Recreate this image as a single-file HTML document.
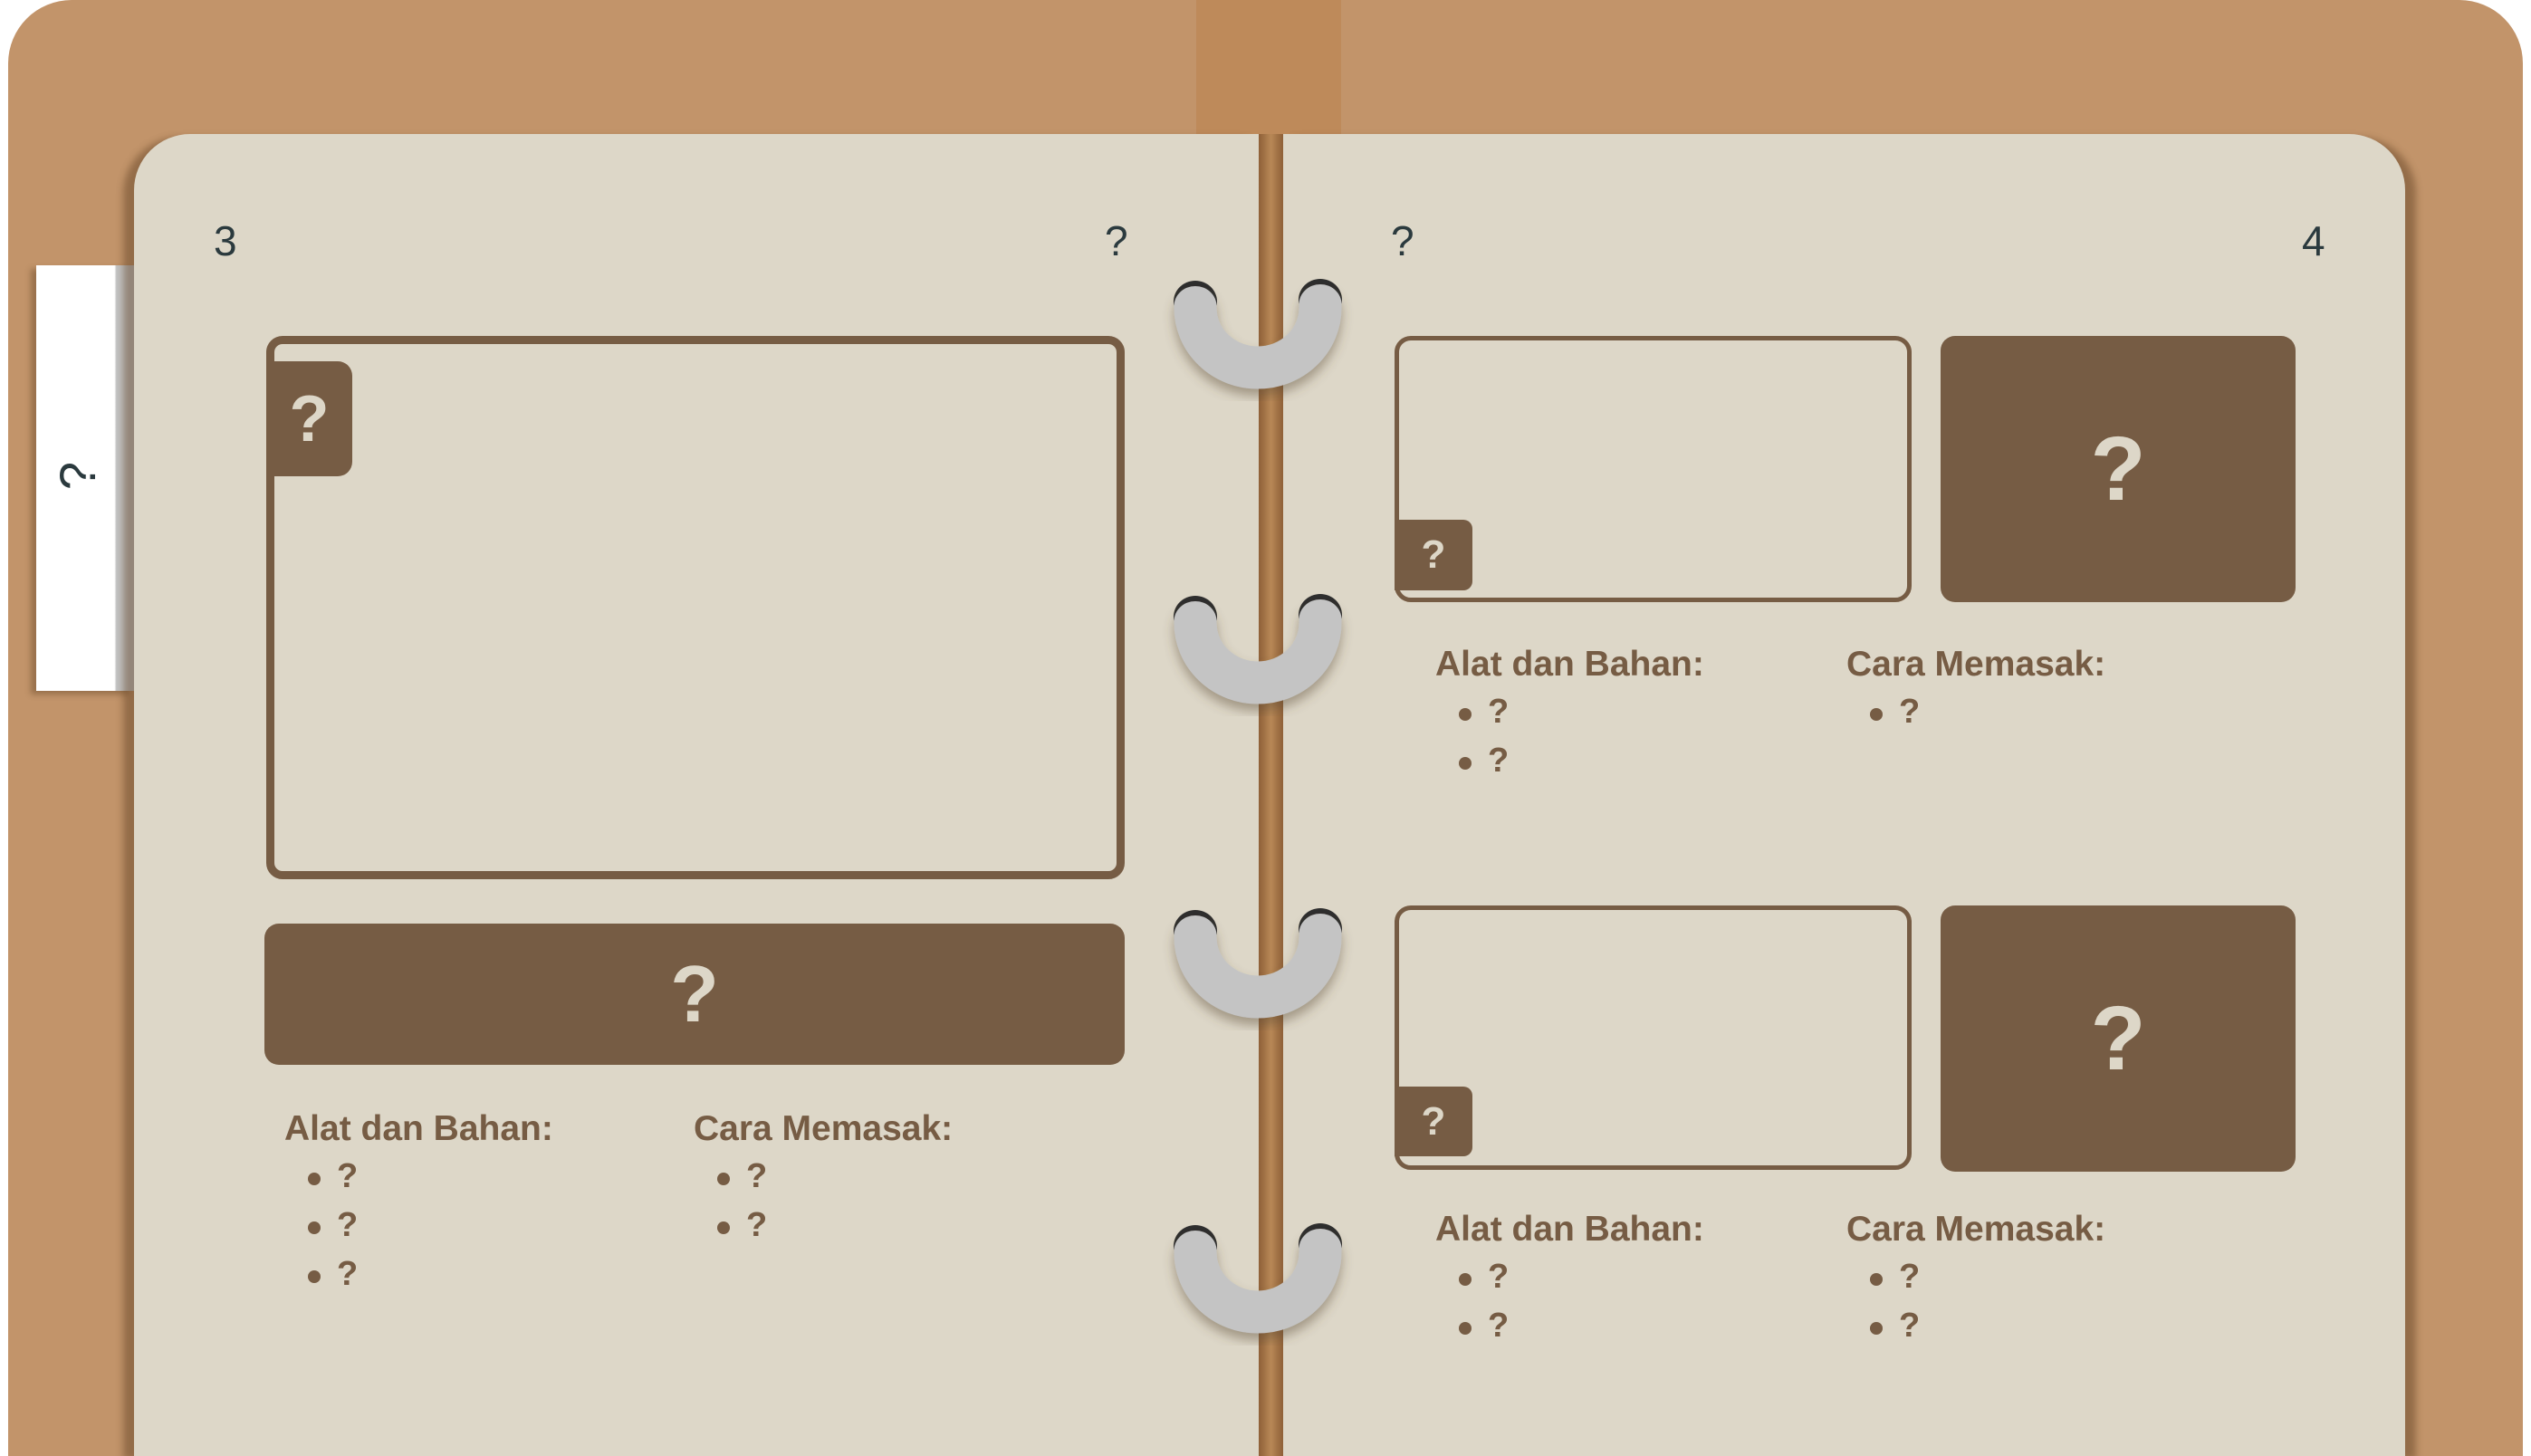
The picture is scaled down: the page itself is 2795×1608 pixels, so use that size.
<!DOCTYPE html>
<html><head><meta charset="utf-8"><style>
*{margin:0;padding:0;box-sizing:border-box}
html,body{width:2795px;height:1608px;overflow:hidden}
body{background:#fff;position:relative;font-family:"Liberation Sans",sans-serif}
.a{position:absolute}
.cover{left:9px;top:0;width:2777px;height:1608px;background:#C2946A;border-radius:70px 70px 0 0}
.band{left:1321px;top:0;width:160px;height:160px;background:#BE8A5A}
.page{top:148px;height:1460px;background:#DDD7C8}
.lp{left:148px;width:1242px;border-radius:62px 0 0 0;box-shadow:-12px 4px 8px rgba(90,60,30,.45)}
.rp{left:1417px;width:1239px;border-radius:0 62px 0 0;box-shadow:12px 4px 8px rgba(90,60,30,.45)}
.spine{left:1390px;top:148px;width:27px;height:1460px;background:linear-gradient(90deg,#8E6038,#B88856 50%,#8E6038)}
.tab{left:40px;top:293px;width:108px;height:470px;background:linear-gradient(90deg,#fff 0,#fff 80%,#c3c3c3 82%,#c3c3c3 100%);box-shadow:-6px 4px 6px rgba(90,60,30,.4)}
.num{font-size:46px;color:#2B3A3E;line-height:1}
.frame{border:9px solid #765C44;border-radius:18px}
.dark{background:#765C44;border-radius:16px;color:#DDD7C8;font-weight:bold;display:flex;align-items:center;justify-content:center}
.h{font-size:39px;font-weight:bold;color:#765C44;line-height:1}
.li{font-size:38px;font-weight:bold;color:#765C44;line-height:1}
.li:before{content:"";position:absolute;left:-32px;top:15px;width:14px;height:14px;border-radius:50%;background:#765C44}
</style></head><body>
<div class="a cover"></div>
<div class="a band"></div>
<div class="a tab"><div class="a" style="left:30px;top:200px;font-size:56px;color:#2B3A3E;transform:rotate(-90deg)">?</div></div>
<div class="a page lp"></div>
<div class="a page rp"></div>
<div class="a spine"></div>

<div class="a num" style="left:236px;top:243px">3</div>
<div class="a num" style="left:1220px;top:243px">?</div>
<div class="a num" style="left:1536px;top:243px">?</div>
<div class="a num" style="left:2542px;top:243px">4</div>

<div class="a frame" style="left:294px;top:371px;width:948px;height:600px"></div>
<div class="a dark" style="left:294px;top:399px;width:95px;height:127px;border-radius:0 16px 16px 0;font-size:72px">?</div>
<div class="a dark" style="left:292px;top:1020px;width:950px;height:156px;font-size:88px">?</div>
<div class="a h" style="left:314px;top:1227px">Alat dan Bahan:</div>
<div class="a li" style="left:372px;top:1280px">?</div>
<div class="a li" style="left:372px;top:1334px">?</div>
<div class="a li" style="left:372px;top:1388px">?</div>
<div class="a h" style="left:766px;top:1227px">Cara Memasak:</div>
<div class="a li" style="left:824px;top:1280px">?</div>
<div class="a li" style="left:824px;top:1334px">?</div>

<div class="a frame" style="left:1540px;top:371px;width:571px;height:294px;border-width:5px"></div>
<div class="a dark" style="left:1540px;top:574px;width:86px;height:78px;border-radius:0 10px 10px 0;font-size:44px">?</div>
<div class="a dark" style="left:2143px;top:371px;width:392px;height:294px;font-size:100px">?</div>
<div class="a h" style="left:1585px;top:714px">Alat dan Bahan:</div>
<div class="a li" style="left:1643px;top:767px">?</div>
<div class="a li" style="left:1643px;top:821px">?</div>
<div class="a h" style="left:2039px;top:714px">Cara Memasak:</div>
<div class="a li" style="left:2097px;top:767px">?</div>

<div class="a frame" style="left:1540px;top:1000px;width:571px;height:292px;border-width:5px"></div>
<div class="a dark" style="left:1540px;top:1200px;width:86px;height:77px;border-radius:0 10px 10px 0;font-size:44px">?</div>
<div class="a dark" style="left:2143px;top:1000px;width:392px;height:294px;font-size:100px">?</div>
<div class="a h" style="left:1585px;top:1338px">Alat dan Bahan:</div>
<div class="a li" style="left:1643px;top:1391px">?</div>
<div class="a li" style="left:1643px;top:1445px">?</div>
<div class="a h" style="left:2039px;top:1338px">Cara Memasak:</div>
<div class="a li" style="left:2097px;top:1391px">?</div>
<div class="a li" style="left:2097px;top:1445px">?</div>

<svg class="a" style="left:0;top:0" width="2795" height="1608">
<defs><filter id="sh" x="-20%" y="-20%" width="140%" height="160%"><feDropShadow dx="0" dy="8" stdDeviation="6" flood-color="#5a4a30" flood-opacity="0.45"/></filter>
<g id="ring">
<ellipse cx="1320" cy="333" rx="24" ry="23" fill="#2e2e2e"/>
<ellipse cx="1458" cy="331" rx="24" ry="23" fill="#2e2e2e"/>
<g filter="url(#sh)">
<path d="M1320 337 L1320 340 A69 66 0 0 0 1458 340 L1458 335" fill="none" stroke="#C4C4C4" stroke-width="47"/>
<ellipse cx="1320" cy="338" rx="23.5" ry="22" fill="#C4C4C4"/>
<ellipse cx="1458" cy="336" rx="23.5" ry="22" fill="#C4C4C4"/>
</g></g></defs>
<use href="#ring"/>
<use href="#ring" transform="translate(0,348)"/>
<use href="#ring" transform="translate(0,695)"/>
<use href="#ring" transform="translate(0,1043)"/>
</svg>
</body></html>
